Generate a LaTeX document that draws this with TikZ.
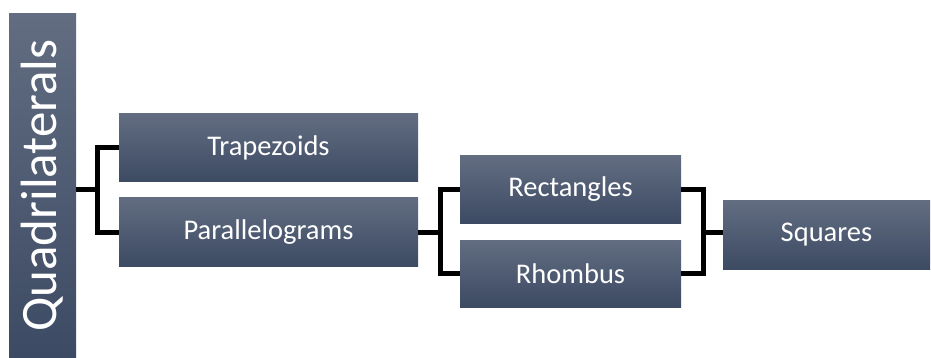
\documentclass[tikz,border=0pt]{standalone}
\usepackage{fontspec}
\setmainfont{Carlito}
\definecolor{boxtop}{RGB}{98,109,129}
\definecolor{boxbot}{RGB}{60,74,99}
\usetikzlibrary{positioning}

\begin{document}
\begin{tikzpicture}[x=1pt, y=-1pt,
    sbox/.style={rectangle, top color=boxtop, bottom color=boxbot, draw=none,
                 text=white, font=\fontsize{28.5}{32}\selectfont, inner sep=0pt},
    qbox/.style={sbox, minimum width=67pt, minimum height=343pt,
                 font=\fontsize{51}{56}\selectfont},
    link/.style={line width=5pt, black}
  ]
    \useasboundingbox (0,0) rectangle (931,358);

    % Root
    \node[qbox] (quad) at (42.5,185.5) {\rotatebox{90}{Quadrilaterals}};

    % First level
    \node[sbox, minimum width=299pt, minimum height=68pt] (trap) at (268.5,148) {Trapezoids};
    \node[sbox, minimum width=299pt, minimum height=68pt] (para) at (268.5,232) {Parallelograms};

    % Second level
    \node[sbox, minimum width=221pt, minimum height=67pt] (rect) at (570.5,189.5) {Rectangles};
    \node[sbox, minimum width=221pt, minimum height=67pt] (rhom) at (570.5,273.5) {Rhombus};

    % Third level
    \node[sbox, minimum width=207pt, minimum height=68pt] (squa) at (826.5,235) {Squares};

    % Brackets
    \coordinate (j1) at (97,190);
    \coordinate (j2) at (440,232);
    \coordinate (j3) at (703,232);

    \draw[link] (j1 -| quad.east) -- (j1);
    \draw[link] (trap.west) -| (j1) |- (para.west);

    \draw[link] (para.east) -- (j2);
    \draw[link] (rect.west) -| (j2) |- (rhom.west);

    \draw[link] (rect.east) -| (j3) |- (rhom.east);
    \draw[link] (j3) -- (j3 -| squa.west);
  \end{tikzpicture}
\end{document}
